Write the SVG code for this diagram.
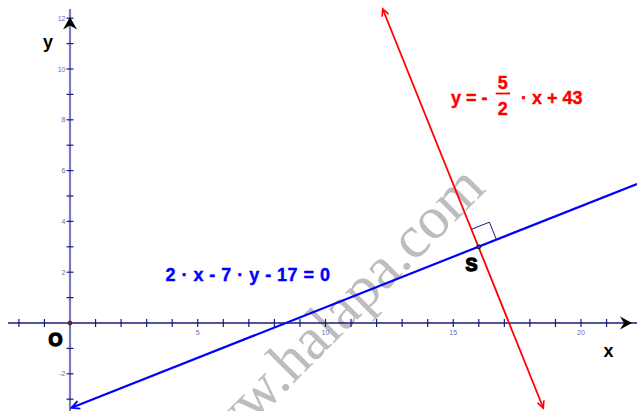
<svg xmlns="http://www.w3.org/2000/svg" width="637" height="411" viewBox="0 0 637 411">
<style>
.tick{stroke:#1a1a80;stroke-width:1.2}
.tl{font-family:"Liberation Sans",Arial,sans-serif;font-size:7px;fill:#6a6ab4}
.ax{font-family:"Liberation Sans",Arial,sans-serif;font-size:18px;font-weight:bold;fill:#000}
.pt{font-family:"Liberation Sans",Arial,sans-serif;font-size:18px;font-weight:bold;fill:#000;stroke:#000;stroke-width:1.4;stroke-linejoin:round}
.eqb{font-family:"Liberation Sans",Arial,sans-serif;font-size:18px;font-weight:bold;fill:#0000ff;stroke:#0000ff;stroke-width:0.4}
.eqr{font-family:"Liberation Sans",Arial,sans-serif;font-size:18px;font-weight:bold;fill:#ff0000;stroke:#ff0000;stroke-width:0.4}
</style>
<defs>
<marker id="arrR" markerUnits="userSpaceOnUse" markerWidth="12" markerHeight="12" refX="0" refY="0" viewBox="-10 -6 12 12" orient="auto-start-reverse" overflow="visible">
<path d="M-7,-3.5 L0,0 L-7,3.5" fill="none" stroke="#ff0000" stroke-width="1.6"/>
</marker>
<marker id="arrB" markerUnits="userSpaceOnUse" markerWidth="12" markerHeight="12" refX="0" refY="0" viewBox="-10 -6 12 12" orient="auto-start-reverse" overflow="visible">
<path d="M-8,-4 L0,0 L-8,4" fill="none" stroke="#0000ff" stroke-width="1.8"/>
</marker>
</defs>
<rect width="637" height="411" fill="#fff"/>
<text id="watermark" transform="translate(193,484) rotate(-45)" font-family="'Liberation Serif','Times New Roman',serif" font-size="60" fill="#bdbdbd">www.halapa.com</text>
<g id="axes">
<line x1="70" y1="9" x2="70" y2="411" stroke="#7a7ac2" stroke-width="2.2"/>
<line x1="8" y1="323" x2="637" y2="323" stroke="#1a1a80" stroke-width="1.6"/>
<g id="xticks">
<line class="tick" x1="18.9" y1="319" x2="18.9" y2="327"/>
<line class="tick" x1="44.45" y1="319" x2="44.45" y2="327"/>
<line class="tick" x1="95.55" y1="319" x2="95.55" y2="327"/>
<line class="tick" x1="121.1" y1="319" x2="121.1" y2="327"/>
<line class="tick" x1="146.65" y1="319" x2="146.65" y2="327"/>
<line class="tick" x1="172.2" y1="319" x2="172.2" y2="327"/>
<line class="tick" x1="197.75" y1="319" x2="197.75" y2="327"/>
<line class="tick" x1="223.3" y1="319" x2="223.3" y2="327"/>
<line class="tick" x1="248.85" y1="319" x2="248.85" y2="327"/>
<line class="tick" x1="274.4" y1="319" x2="274.4" y2="327"/>
<line class="tick" x1="299.95" y1="319" x2="299.95" y2="327"/>
<line class="tick" x1="325.5" y1="319" x2="325.5" y2="327"/>
<line class="tick" x1="351.05" y1="319" x2="351.05" y2="327"/>
<line class="tick" x1="376.6" y1="319" x2="376.6" y2="327"/>
<line class="tick" x1="402.15" y1="319" x2="402.15" y2="327"/>
<line class="tick" x1="427.7" y1="319" x2="427.7" y2="327"/>
<line class="tick" x1="453.25" y1="319" x2="453.25" y2="327"/>
<line class="tick" x1="478.8" y1="319" x2="478.8" y2="327"/>
<line class="tick" x1="504.35" y1="319" x2="504.35" y2="327"/>
<line class="tick" x1="529.9" y1="319" x2="529.9" y2="327"/>
<line class="tick" x1="555.45" y1="319" x2="555.45" y2="327"/>
<line class="tick" x1="581" y1="319" x2="581" y2="327"/>
<line class="tick" x1="606.55" y1="319" x2="606.55" y2="327"/>
</g>
<g id="yticks">
<line class="tick" x1="66.5" y1="18.2" x2="73.5" y2="18.2"/>
<line class="tick" x1="66.5" y1="43.6" x2="73.5" y2="43.6"/>
<line class="tick" x1="66.5" y1="69" x2="73.5" y2="69"/>
<line class="tick" x1="66.5" y1="94.4" x2="73.5" y2="94.4"/>
<line class="tick" x1="66.5" y1="119.8" x2="73.5" y2="119.8"/>
<line class="tick" x1="66.5" y1="145.2" x2="73.5" y2="145.2"/>
<line class="tick" x1="66.5" y1="170.6" x2="73.5" y2="170.6"/>
<line class="tick" x1="66.5" y1="196" x2="73.5" y2="196"/>
<line class="tick" x1="66.5" y1="221.4" x2="73.5" y2="221.4"/>
<line class="tick" x1="66.5" y1="246.8" x2="73.5" y2="246.8"/>
<line class="tick" x1="66.5" y1="272.2" x2="73.5" y2="272.2"/>
<line class="tick" x1="66.5" y1="297.6" x2="73.5" y2="297.6"/>
<line class="tick" x1="66.5" y1="348.4" x2="73.5" y2="348.4"/>
<line class="tick" x1="66.5" y1="373.8" x2="73.5" y2="373.8"/>
<line class="tick" x1="66.5" y1="399.2" x2="73.5" y2="399.2"/>
</g>
<g id="ticklabels">
<text class="tl" x="65.5" y="20.7" text-anchor="end">12</text>
<text class="tl" x="65.5" y="71.5" text-anchor="end">10</text>
<text class="tl" x="65.5" y="122.3" text-anchor="end">8</text>
<text class="tl" x="65.5" y="173.1" text-anchor="end">6</text>
<text class="tl" x="65.5" y="223.9" text-anchor="end">4</text>
<text class="tl" x="65.5" y="274.7" text-anchor="end">2</text>
<text class="tl" x="65.5" y="376.3" text-anchor="end">-2</text>
<text class="tl" x="197.75" y="334.5" text-anchor="middle">5</text>
<text class="tl" x="325.5" y="334.5" text-anchor="middle">10</text>
<text class="tl" x="453.25" y="334.5" text-anchor="middle">15</text>
<text class="tl" x="581" y="334.5" text-anchor="middle">20</text>
</g>
<polygon points="70,17 77,29.5 70,25.5 63,29.5" fill="#000"/>
<polygon points="632,323 620,316.5 624,323 620,329.5" fill="#000"/>
<text class="ax" x="43" y="47.7">y</text>
<text class="ax" x="603.5" y="357">x</text>
</g>
<g id="connectors">
<line id="blue-line" x1="71.5" y1="407.8" x2="637" y2="184" stroke="#0000ff" stroke-width="2.2" marker-start="url(#arrB)"/>
<line id="red-line" x1="382.7" y1="9" x2="543.3" y2="408" stroke="#ff0000" stroke-width="1.8" marker-start="url(#arrR)" marker-end="url(#arrR)"/>
<polyline id="right-angle" points="471.7,229.2 489.4,222.2 496.5,239.8" fill="none" stroke="#1a1a80" stroke-width="1"/>
</g>
<g id="point-O">
<circle cx="70" cy="323" r="2" fill="#8b1a1a" stroke="#000" stroke-width="0.5"/>
<text class="pt" x="48.5" y="345.5">O</text>
</g>
<g id="point-S">
<circle cx="478.8" cy="246.8" r="2" fill="#3030c0" stroke="#000" stroke-width="0.8"/>
<text class="pt" x="465.5" y="270.5">S</text>
</g>
<g id="eq-blue">
<text class="eqb" x="165.5" y="281" textLength="164.5" lengthAdjust="spacing">2 · x - 7 · y - 17 = 0</text>
</g>
<g id="eq-red">
<text class="eqr" x="451" y="104.3">y = -</text>
<text class="eqr" x="502.8" y="89" text-anchor="middle">5</text>
<line x1="495.7" y1="93.5" x2="510" y2="93.5" stroke="#ff0000" stroke-width="1.8"/>
<text class="eqr" x="502.8" y="115" text-anchor="middle">2</text>
<text class="eqr" x="582.5" y="104.3" text-anchor="end">· x + 43</text>
</g>
</svg>
